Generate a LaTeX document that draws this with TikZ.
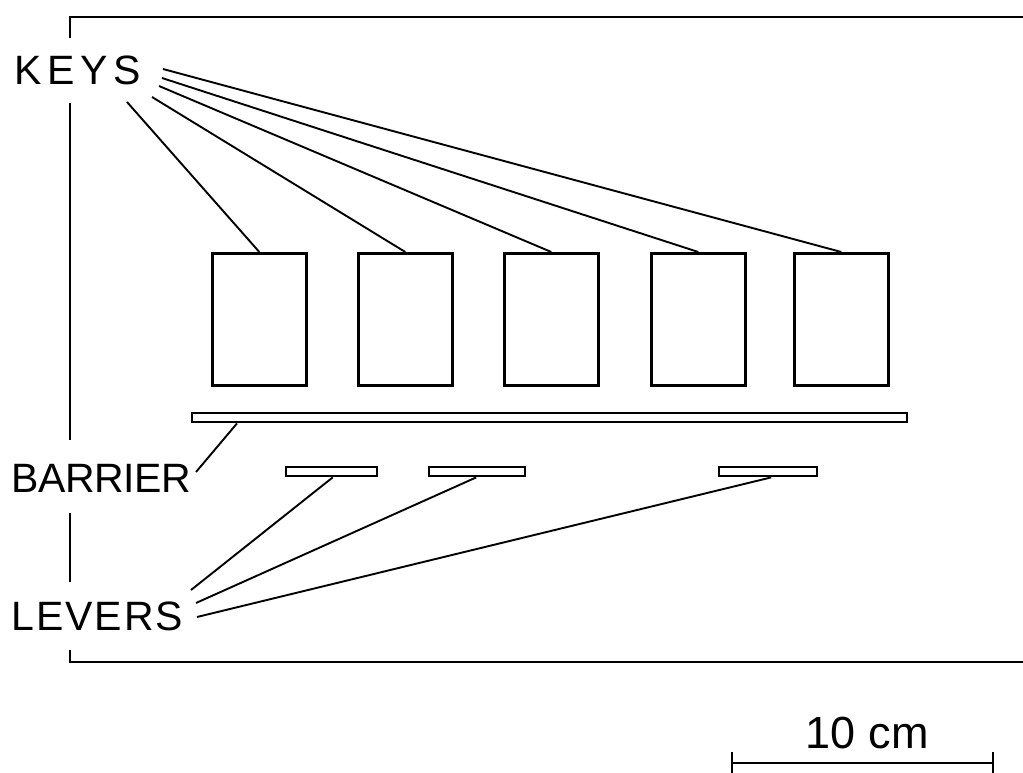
\documentclass[tikz,border=0pt]{standalone}
\usepackage{fontspec}
\setmainfont{Liberation Sans}
\begin{document}
\begin{tikzpicture}[x=1pt,y=-1pt,
  frame/.style={line width=2.4pt},
  ptr/.style={line width=1.9pt},
  keybox/.style={draw,line width=2.6pt,minimum width=94pt,minimum height=132pt,inner sep=0pt,anchor=north west},
  bar/.style={draw,line width=2.4pt,inner sep=0pt,anchor=north west},
  lbl/.style={inner sep=0pt,anchor=base west,font=\fontsize{41}{48}\selectfont}]
\useasboundingbox (0,0) rectangle (1023,773);
% frame
\draw[frame] (70,38) -- (70,17) -- (1023,17);
\draw[frame] (70,103) -- (70,440);
\draw[frame] (70,513) -- (70,582);
\draw[frame] (70,650) -- (70,662) -- (1023,662);
% labels
\node[lbl] (keys) at (14,85) {\addfontfeature{LetterSpace=14}KEYS};
\node[lbl] (barrier) at (11,492) {\addfontfeature{LetterSpace=-1}BARRIER};
\node[lbl] (levers) at (11,630) {\addfontfeature{LetterSpace=5}LEVERS};
% keys
\node[keybox] (k1) at (211,252) {};
\node[keybox] (k2) at (357,252) {};
\node[keybox] (k3) at (503,252) {};
\node[keybox] (k4) at (650,252) {};
\node[keybox] (k5) at (793,252) {};
% barrier and levers
\node[bar,minimum width=715pt,minimum height=9pt] (barr) at (191,412) {};
\node[bar,minimum width=91pt,minimum height=9pt] (l1) at (285,466) {};
\node[bar,minimum width=96pt,minimum height=9pt] (l2) at (428,466) {};
\node[bar,minimum width=98pt,minimum height=9pt] (l3) at (718,466) {};
% pointer start points
\coordinate (ka) at (127,102);
\coordinate (kb) at (152,97);
\coordinate (kc) at (159,86);
\coordinate (kd) at (162,78);
\coordinate (ke) at (163,69);
\coordinate (ba) at (196,472);
\coordinate (la) at (191,590);
\coordinate (lb) at (196,603);
\coordinate (lc) at (197,617);
\draw[ptr] (ka) -- (k1.north);
\draw[ptr] (kb) -- (k2.north);
\draw[ptr] (kc) -- (k3.north);
\draw[ptr] (kd) -- (k4.north);
\draw[ptr] (ke) -- (k5.north);
\draw[ptr] (ba) -- ([xshift=46pt]barr.south west);
\draw[ptr] (la) -- ([xshift=1pt]l1.south);
\draw[ptr] (lb) -- ([xshift=-1pt]l2.south);
\draw[ptr] (lc) -- ([xshift=3pt]l3.south);
% scale bar
\coordinate (s1) at (732,763);
\coordinate (s2) at (993,763);
\draw[line width=2pt] (s1) -- (s2);
\draw[line width=2pt] (732,752) -- (732,773);
\draw[line width=2pt] (993,752) -- (993,773);
\node[inner sep=0pt,anchor=base west,font=\fontsize{45}{52}\selectfont] (scale) at (805,748) {10\hspace{0.3em}cm};
\end{tikzpicture}
\end{document}
